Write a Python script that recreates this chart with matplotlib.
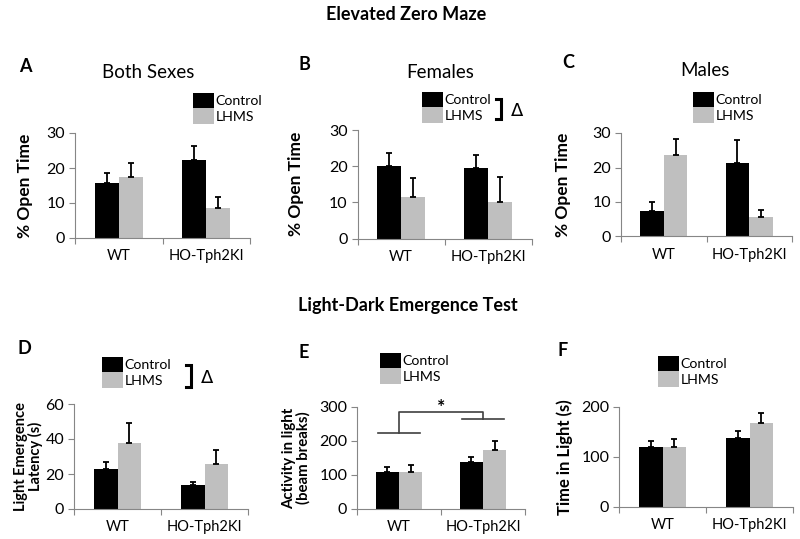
import matplotlib
matplotlib.use("Agg")
import matplotlib.pyplot as plt
from matplotlib.lines import Line2D
import numpy as np

plt.rcParams['font.family'] = ['Lato', 'DejaVu Sans']

W, H = 800, 539

# ---------------- data ----------------
groups = ["WT", "HO-Tph2KI"]
series = ["Control", "LHMS"]

# Elevated Zero Maze, % open time
a_ctrl = [15.8, 22.4]; a_ctrl_err = [2.7, 3.8]
a_lhms = [17.5, 8.7];  a_lhms_err = [3.9, 3.0]
b_ctrl = [20.0, 19.5]; b_ctrl_err = [3.6, 3.6]
b_lhms = [11.6, 10.1]; b_lhms_err = [5.1, 7.0]
c_ctrl = [7.5, 21.4];  c_ctrl_err = [2.6, 6.5]
c_lhms = [23.6, 5.7];  c_lhms_err = [4.8, 2.1]
# Light-Dark Emergence Test
d_ctrl = [22.6, 13.8]; d_ctrl_err = [4.0, 1.9]
d_lhms = [38.0, 25.8]; d_lhms_err = [11.0, 7.9]
e_ctrl = [108, 137];   e_ctrl_err = [15, 17]
e_lhms = [109, 175];   e_lhms_err = [19, 25]
f_ctrl = [121, 138];   f_ctrl_err = [12, 14]
f_lhms = [121, 169];   f_lhms_err = [15, 20]

ticks_ezm = [0, 10, 20, 30]
ticks_d = [0, 20, 40, 60]
ticks_e = [0, 100, 200, 300]
ticks_f = [0, 100, 200]

# significance bracket in E (data values)
e_left_bar_y = 225
e_right_bar_y = 265
e_top_y = 284
e_star = "*"

CTRL_COLOR = "#000000"
LHMS_COLOR = "#bfbfbf"
AX_COLOR = "#868686"

fig = plt.figure(figsize=(W / 100, H / 100), dpi=100)


def px(x, y):
    return (x / W, 1 - y / H)


def make_ax(l, t, r, b):
    return fig.add_axes([l / W, 1 - b / H, (r - l) / W, (b - t) / H])


def panel(box, ctrl, ctrl_err, lhms, lhms_err, yticks, ylabel, ylab_x, ylab_size,
          legend_xy, letter, letter_xy, title=None, title_xy=None):
    ax = make_ax(*box)
    x = np.arange(len(groups))
    w = 0.275
    ax.bar(x - w / 2, ctrl, w, color=CTRL_COLOR, label=series[0], zorder=2)
    ax.bar(x + w / 2, lhms, w, color=LHMS_COLOR, label=series[1], zorder=2)
    ek = dict(fmt="none", ecolor="black", elinewidth=1.3, capsize=2.2,
              capthick=1.3, zorder=3)
    ax.errorbar(x - w / 2, ctrl, yerr=[np.zeros(len(ctrl)), ctrl_err], **ek)
    ax.errorbar(x + w / 2, lhms, yerr=[np.zeros(len(lhms)), lhms_err], **ek)
    ax.set_xlim(-0.5, len(groups) - 0.5)
    ax.set_ylim(yticks[0], yticks[-1])
    ax.set_yticks(yticks)
    ax.set_xticks(np.arange(-0.5, len(groups), 1.0))
    ax.set_xticklabels([])
    ax.set_xticks(x, minor=True)
    ax.set_xticklabels(groups, minor=True, fontsize=10.5)
    ax.tick_params(axis="x", which="minor", length=0, pad=8)
    ax.tick_params(axis="x", which="major", length=4, color=AX_COLOR, width=0.8)
    ax.tick_params(axis="y", length=4, color=AX_COLOR, width=0.8, labelsize=11.5, pad=3)
    for s in ["top", "right"]:
        ax.spines[s].set_visible(False)
    for s in ["left", "bottom"]:
        ax.spines[s].set_color(AX_COLOR)
        ax.spines[s].set_linewidth(0.8)
    ax.set_ylabel(ylabel, fontsize=ylab_size, fontweight="bold", linespacing=1.0)
    ax.yaxis.set_label_coords((ylab_x - box[0]) / (box[2] - box[0]), 0.5)
    ax.legend(loc="upper left", bbox_to_anchor=px(*legend_xy),
              bbox_transform=fig.transFigure, frameon=False, fontsize=10.2,
              handlelength=1.45, handleheight=1.3, labelspacing=0.0,
              handletextpad=0.15, borderpad=0, borderaxespad=0)
    fig.text(*px(*letter_xy), letter, fontsize=13, fontweight="bold",
             ha="center", va="center")
    if title:
        fig.text(*px(*title_xy), title, fontsize=13.5, ha="center", va="center")
    return ax


def delta_bracket(x, y0, y1, dx, delta_xy):
    xs = [x - dx, x, x, x - dx]
    ys = [y0, y0, y1, y1]
    fig.add_artist(Line2D([v / W for v in xs], [1 - v / H for v in ys],
                          color="black", lw=2.2, transform=fig.transFigure,
                          solid_joinstyle="miter"))
    fig.text(*px(*delta_xy), "Δ", fontsize=13, ha="center", va="center",
             family=["DejaVu Sans"])


fig.text(*px(406, 14), "Elevated Zero Maze", fontsize=13, fontweight="bold",
         ha="center", va="center")
fig.text(*px(408, 306), "Light-Dark Emergence Test", fontsize=13,
         fontweight="bold", ha="center", va="center")

panel((75, 133, 250, 238), a_ctrl, a_ctrl_err, a_lhms, a_lhms_err, ticks_ezm,
      "% Open Time", 33, 12.5, (193, 93), "A", (25, 66), "Both Sexes", (148, 72))
panel((357.5, 130, 532, 238.5), b_ctrl, b_ctrl_err, b_lhms, b_lhms_err, ticks_ezm,
      "% Open Time", 304, 12.5, (422, 92), "B", (304, 64), "Females", (440, 72))
panel((621, 133, 792, 236.5), c_ctrl, c_ctrl_err, c_lhms, c_lhms_err, ticks_ezm,
      "% Open Time", 571, 12.5, (693, 92), "C", (568, 63), "Males", (705, 70))
delta_bracket(501, 99, 119, 5, (517, 111))

panel((74, 404, 248, 509), d_ctrl, d_ctrl_err, d_lhms, d_lhms_err, ticks_d,
      "Light Emergence\nLatency (s)", 43, 10.5, (102, 357), "D", (24, 349))
delta_bracket(191, 365, 387, 5, (207, 378))

ax_e = panel((357, 407, 525, 509), e_ctrl, e_ctrl_err, e_lhms, e_lhms_err, ticks_e,
             "Activity in light\n(beam breaks)", 311, 10.8, (380, 353), "E", (304, 352))
bc = "#404040"
ax_e.plot([-0.25, 0.25], [e_left_bar_y] * 2, color=bc, lw=1.2, clip_on=False)
ax_e.plot([0.75, 1.25], [e_right_bar_y] * 2, color=bc, lw=1.2, clip_on=False)
ax_e.plot([0, 0, 1, 1], [e_left_bar_y, e_top_y, e_top_y, e_right_bar_y],
          color=bc, lw=1.2, clip_on=False)
ax_e.text(0.5, e_top_y - 9, e_star, fontsize=14, ha="center", va="bottom",
          fontweight="bold")

panel((619, 407, 793, 507), f_ctrl, f_ctrl_err, f_lhms, f_lhms_err, ticks_f,
      "Time in Light (s)", 573, 12.0, (658, 356), "F", (563, 350))

fig.savefig("out.png", dpi=100, facecolor="white")
